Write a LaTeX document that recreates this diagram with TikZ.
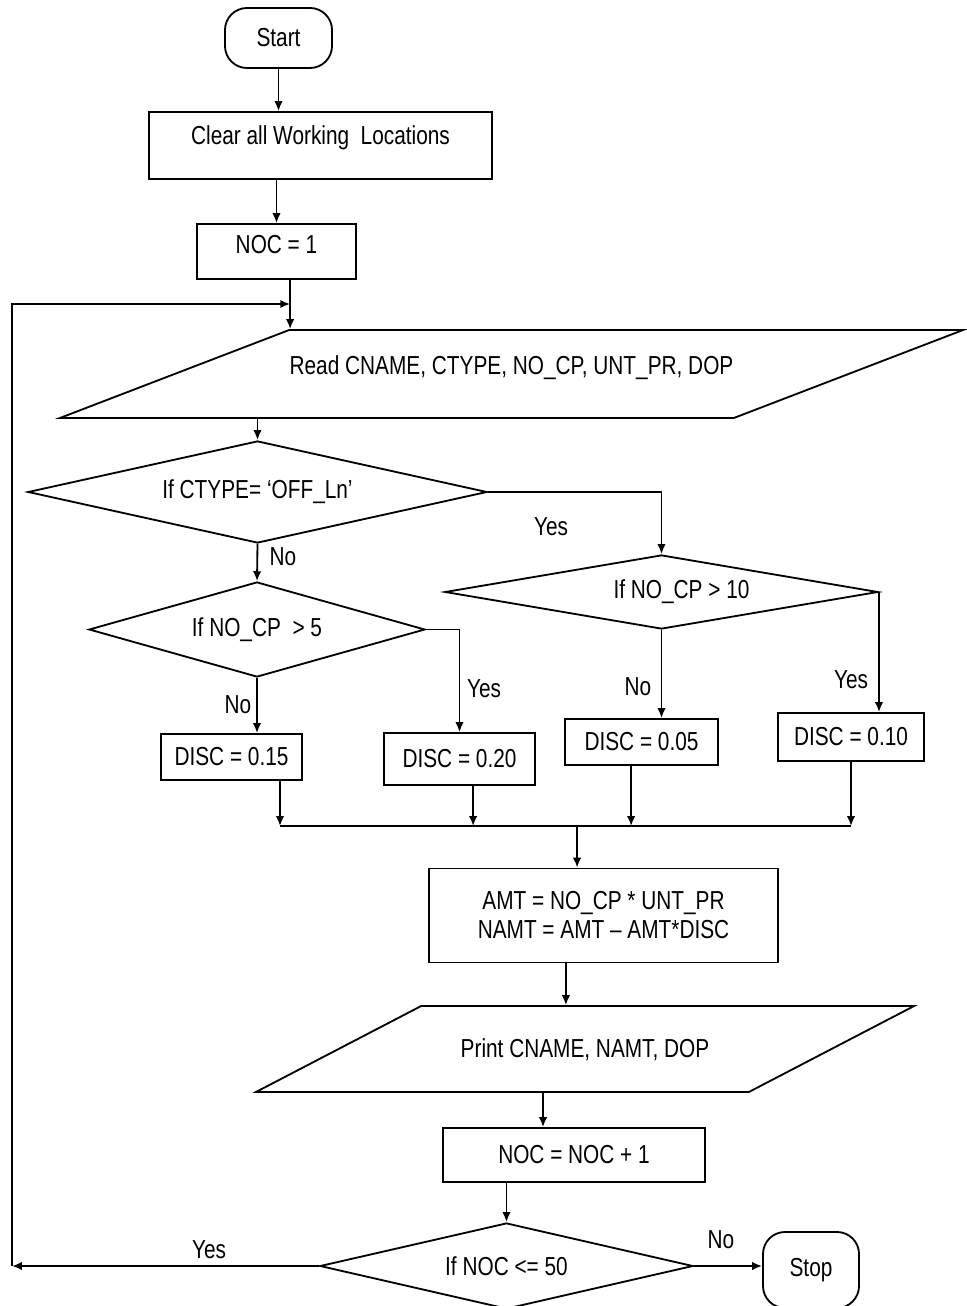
\documentclass[tikz,border=0pt]{standalone}
\usepackage{fontspec}
\setmainfont{Liberation Sans}[FakeStretch=0.8]
\usetikzlibrary{shapes.geometric,arrows.meta}
\begin{document}
\begin{tikzpicture}[
    x=0.025cm, y=-0.025cm,
    font=\fontsize{18.5}{20.6}\selectfont,
    line width=1.3pt,
    term/.style={rectangle, draw, rounded corners=0.55cm, inner sep=0pt},
    proc/.style={rectangle, draw, inner sep=0pt, align=center},
    io/.style={trapezium, draw, trapezium stretches body, inner sep=0pt},
    decision/.style={diamond, draw, aspect=#1, inner sep=0pt},
    up/.style={text height=0.45cm, text depth=#1},
    arrow/.style={-{Latex[length=7pt,width=6pt]}}
]
\path[use as bounding box, fill=white] (0,0) rectangle (966,1306);

\node[term, minimum width=2.675cm, minimum height=1.5cm] (start) at (278.5,38) {Start};
\node[proc, minimum width=8.575cm, minimum height=1.675cm, up=0.52cm] (clr) at (320.5,145.5) {Clear all Working\ \ Locations};
\node[proc, minimum width=3.975cm, minimum height=1.375cm, up=0.35cm] (noc1) at (276.5,251.5) {NOC = 1};
\node[io, trapezium left angle=21, trapezium right angle=159, minimum width=22.575cm, text height=1.115cm, text depth=1.085cm] (read) at (511.5,374) {Read CNAME, CTYPE, NO\_CP, UNT\_PR, DOP};
\node[decision=4.5, minimum width=11.475cm, minimum height=2.55cm] (qtype) at (257.5,492) {If CTYPE= ‘OFF\_Ln’};
\node[decision=5.85, minimum width=10.825cm, minimum height=1.85cm] (qten) at (661.5,592) {\hspace*{1cm}If NO\_CP > 10};
\node[decision=3.54, minimum width=8.4cm, minimum height=2.375cm] (qfive) at (257,629.5) {If NO\_CP\ \ > 5};
\node[proc, minimum width=3.525cm, minimum height=1.15cm] (disc15) at (231.5,757) {DISC = 0.15};
\node[proc, minimum width=3.775cm, minimum height=1.3cm] (disc20) at (459.5,759) {DISC = 0.20};
\node[proc, minimum width=3.825cm, minimum height=1.15cm] (disc05) at (641.5,742) {DISC = 0.05};
\node[proc, minimum width=3.65cm, minimum height=1.2cm] (disc10) at (851,737) {DISC = 0.10};
\node[proc, minimum width=8.725cm, minimum height=2.35cm] (amt) at (603.5,915.5) {AMT = NO\_CP * UNT\_PR\\NAMT = AMT – AMT*DISC};
\node[io, trapezium left angle=27.5, trapezium right angle=152.5, minimum width=16.45cm, text height=1.29cm, text depth=0.86cm] (prt) at (585,1049) {Print CNAME, NAMT, DOP};
\node[proc, minimum width=6.55cm, minimum height=1.35cm] (noc2) at (574,1155) {NOC = NOC + 1};
\node[decision=4.3, minimum width=9.325cm, minimum height=2.15cm] (qnoc) at (506.5,1266) {If NOC <= 50};
\node[term, minimum width=2.4cm, minimum height=1.9cm] (stop) at (811,1270) {Stop};

\node (yes1) at (551,527) {Yes};
\node (no1) at (283,557) {No};
\node (yes2) at (484,689) {Yes};
\node (no2) at (238,705) {No};
\node (no3) at (638,687) {No};
\node (yes3) at (851,680) {Yes};
\node (yes4) at (209,1250) {Yes};
\node (no4) at (721,1240) {No};

\coordinate (rin) at ([xshift=0.34cm]noc1.south);
\coordinate (mL) at (280,826);
\coordinate (mR) at (851,826);
\coordinate (o20) at ([xshift=0.34cm]disc20.south);
\coordinate (o05) at ([xshift=-0.26cm]disc05.south);
\coordinate (ain) at ([xshift=-0.66cm]amt.north);
\coordinate (aout) at ([xshift=-0.94cm]amt.south);
\coordinate (pout) at ([xshift=-1.05cm]prt.south);
\coordinate (lb) at (12,1266);
\coordinate (lt) at (12,304);

\draw[arrow] (start) -- (start |- clr.north);
\draw[arrow] (noc1.north |- clr.south) -- (noc1.north);
\draw[arrow] (rin) -- (rin |- read.north);
\draw[arrow] (qtype.north |- read.south) -- (qtype.north);
\draw[arrow] (qtype.east) -| (qten.north);
\draw[arrow] (qtype.south) -- (qfive.north);
\draw[arrow] (qfive.east) -| (disc20.north);
\draw[arrow] (qfive.south) -- (qfive.south |- disc15.north);
\draw[arrow] (qten.south) -- (qten.south |- disc05.north);
\draw[arrow] (qten.east) -- (qten.east |- disc10.north);
\draw (mL) -- (mR);
\draw[arrow] ([xshift=1.21cm]disc15.south) -- (mL);
\draw[arrow] (o20) -- (o20 |- mL);
\draw[arrow] (o05) -- (o05 |- mL);
\draw[arrow] (disc10.south) -- (mR);
\draw[arrow] (ain |- mL) -- (ain);
\draw[arrow] (aout) -- (aout |- prt.north);
\draw[arrow] (pout) -- (pout |- noc2.north);
\draw[arrow] (qnoc.north |- noc2.south) -- (qnoc.north);
\draw[arrow] (qnoc.east) -- (qnoc.east -| stop.west);
\draw[arrow] (qnoc.west) -- (lb);
\draw[arrow] (lb) -- (lt) -- (rin |- lt);
\end{tikzpicture}
\end{document}
